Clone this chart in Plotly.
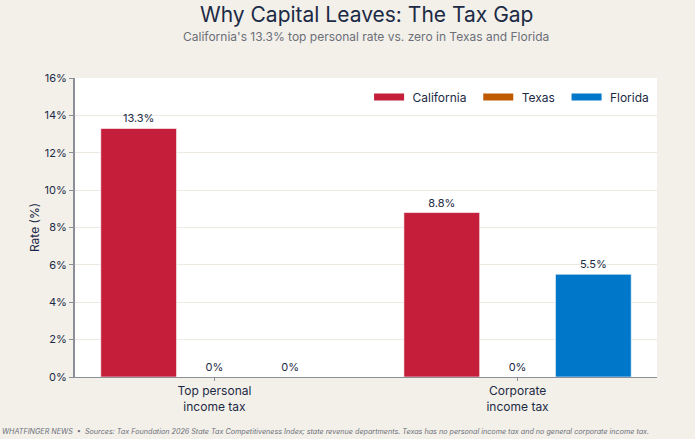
import plotly.graph_objects as go

categories = ["Top personal<br>income tax", "Corporate<br>income tax"]
series_names = ["California", "Texas", "Florida"]
california = [13.3, 8.8]
texas = [0, 0]
florida = [0, 5.5]
colors = ["#C41E3A", "#C05A00", "#0077C8"]
yticks = [0, 2, 4, 6, 8, 10, 12, 14, 16]
ytick_labels = [f"{v}%" for v in yticks]

FONT = "Inter, Noto Sans, sans-serif"
DARK = "#1C2A45"
GRAY = "#6B6F78"
PAD = "\u00a0" * 2

fig = go.Figure()
for name, vals, col in zip(series_names, [california, texas, florida], colors):
    fig.add_trace(go.Bar(
        x=categories, y=vals, name=name, showlegend=False,
        marker=dict(color=col, line=dict(color="rgba(255,255,255,0.6)", width=1)),
        text=[f"{v:g}%" for v in vals], textposition="outside",
        textfont=dict(family=FONT, size=11, color=DARK),
        cliponaxis=False, hoverinfo="skip",
    ))
# legend entries drawn as short thick swatches
for i, (name, col) in enumerate(zip(series_names, colors)):
    label = "\u00a0" + name + (PAD if i < len(series_names) - 1 else "")
    fig.add_trace(go.Scatter(
        x=[None], y=[None], mode="lines", name=label,
        line=dict(color=col, width=7),
    ))

fig.update_layout(
    width=695, height=439,
    paper_bgcolor="#F3F0EA", plot_bgcolor="#FFFFFF",
    margin=dict(l=75, r=38, t=78, b=62),
    barmode="group", bargap=0.25, bargroupgap=0,
    font=dict(family=FONT, color=DARK),
    legend=dict(
        orientation="h", x=0.995, xanchor="right", y=0.985, yanchor="top",
        bgcolor="rgba(255,255,255,0)", font=dict(family=FONT, size=12, color=DARK),
        traceorder="normal", itemwidth=30,
    ),
    xaxis=dict(
        range=[-0.46, 1.46], showgrid=False,
        showline=True, linecolor="#8A8F99", linewidth=1,
        ticks="outside", tickcolor="#8A8F99", ticklen=3,
        tickfont=dict(family=FONT, size=12, color=DARK),
    ),
    yaxis=dict(
        range=[0, 16], tickvals=yticks, ticktext=ytick_labels,
        showgrid=True, gridcolor="#EEEAE3", gridwidth=1,
        showline=True, linecolor="#8A8F99", linewidth=2,
        ticks="outside", tickcolor="#8A8F99", ticklen=4,
        tickfont=dict(family=FONT, size=11, color=DARK),
        title=dict(text="Rate (%)", font=dict(family=FONT, size=12, color=DARK), standoff=2),
        zeroline=False,
    ),
    annotations=[
        dict(text="Why Capital Leaves: The Tax Gap", xref="paper", yref="paper",
             x=0.5, y=1.211, xanchor="center", yanchor="middle", showarrow=False,
             font=dict(family=FONT, size=21, color=DARK)),
        dict(text="California's 13.3% top personal rate vs. zero in Texas and Florida",
             xref="paper", yref="paper", x=0.5, y=1.14, xanchor="center", yanchor="middle",
             showarrow=False, font=dict(family=FONT, size=12, color=GRAY)),
        dict(text="<i>WHATFINGER NEWS  •  Sources: Tax Foundation 2026 State Tax Competitiveness Index; state revenue departments. Texas has no personal income tax and no general corporate income tax.</i>",
             xref="paper", yref="paper", x=-0.129, xanchor="left", y=-0.181, yanchor="middle",
             showarrow=False, font=dict(family=FONT, size=7.2, color=GRAY)),
    ],
)

fig.write_html("out.html", config={"displayModeBar": False},
               post_script="document.body.style.margin='0';document.body.style.padding='0';")
